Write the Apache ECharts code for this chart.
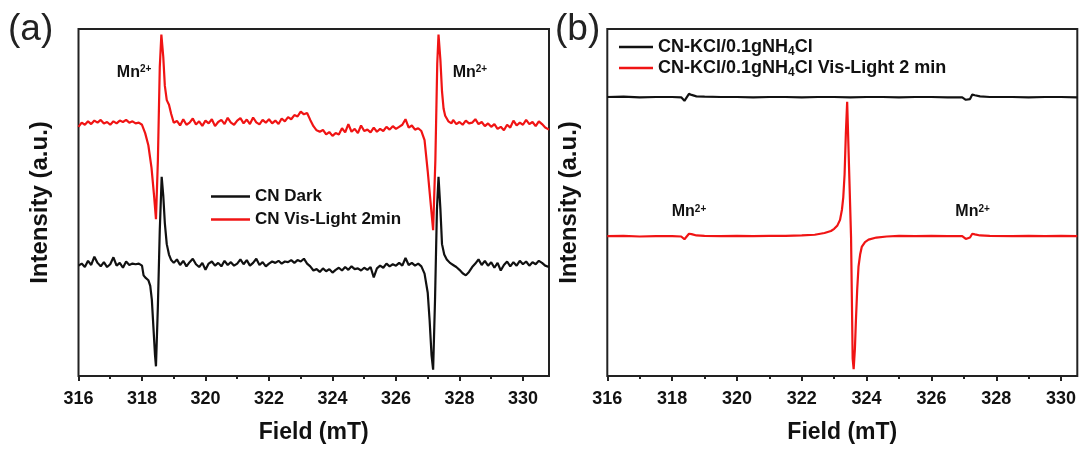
<!DOCTYPE html>
<html>
<head>
<meta charset="utf-8">
<title>EPR</title>
<script src="https://cdn.jsdelivr.net/npm/echarts@6/dist/echarts.min.js"></script>
<style>
    html, body { margin: 0; padding: 0; background: #fff; }
    #main { width: 1082px; height: 449px; }
</style>
</head>
<body>
<div id="main"></div>
<script>
// 刻度
var majorTicks = [316, 318, 320, 322, 324, 326, 328, 330];
var minorTicks = [317, 319, 321, 323, 325, 327, 329];

// (a) CN Dark  [field mT, intensity]
var aDark = [
    [316.0, 31.8], [316.1, 32.4], [316.2, 31.4], [316.3, 33.2], [316.4, 32.0], [316.5, 34.4], [316.6, 32.6], [316.7, 31.6], [316.8, 32.8], [316.9, 31.4],
    [317.0, 32.2], [317.1, 34.2], [317.2, 31.8], [317.3, 32.6], [317.4, 31.2], [317.5, 33.0], [317.6, 32.0], [317.7, 32.4], [317.8, 32.2], [317.9, 32.4],
    [318.0, 31.8], [318.05, 29.0], [318.1, 28.4], [318.15, 28.2], [318.2, 27.6], [318.26, 26.0], [318.31, 22.0], [318.36, 14.0], [318.41, 6.0], [318.44, 2.8],
    [318.5, 20.0], [318.56, 42.0], [318.62, 57.4], [318.67, 52.0], [318.72, 44.0], [318.78, 38.0], [318.85, 35.0], [318.92, 33.4],
    [319.0, 32.6], [319.1, 33.6], [319.2, 32.0], [319.3, 33.2], [319.4, 31.6], [319.5, 32.8], [319.6, 33.8], [319.7, 32.2], [319.8, 31.4], [319.9, 32.6],
    [320.0, 30.6], [320.1, 32.4], [320.2, 33.0], [320.3, 31.8], [320.4, 32.6], [320.5, 31.6], [320.6, 33.2], [320.7, 32.0], [320.8, 32.8], [320.9, 31.8],
    [321.0, 32.4], [321.1, 33.6], [321.2, 32.2], [321.3, 33.4], [321.4, 31.8], [321.5, 32.6], [321.6, 33.8], [321.7, 32.0], [321.8, 32.8], [321.9, 31.6],
    [322.0, 32.4], [322.1, 33.0], [322.2, 32.6], [322.3, 33.2], [322.4, 32.4], [322.5, 33.0], [322.6, 32.8], [322.7, 33.4], [322.8, 32.6], [322.9, 33.4],
    [323.0, 33.0], [323.1, 33.8], [323.2, 32.4], [323.3, 31.6], [323.4, 30.4], [323.5, 30.8], [323.6, 30.0], [323.7, 31.0], [323.8, 30.2], [323.9, 30.8],
    [324.0, 29.8], [324.1, 30.6], [324.2, 31.2], [324.3, 30.4], [324.4, 31.4], [324.5, 30.6], [324.6, 31.6], [324.7, 30.8], [324.8, 31.0], [324.9, 30.4],
    [325.0, 31.2], [325.1, 30.6], [325.2, 31.4], [325.3, 28.4], [325.4, 31.0], [325.5, 31.8], [325.6, 31.2], [325.7, 32.4], [325.8, 31.6], [325.9, 32.2],
    [326.0, 31.8], [326.1, 32.6], [326.2, 31.8], [326.3, 34.0], [326.4, 32.0], [326.5, 32.6], [326.6, 31.8], [326.7, 32.4], [326.8, 31.6], [326.9, 29.5],
    [327.0, 24.0], [327.06, 16.0], [327.12, 6.0], [327.17, 1.8], [327.23, 22.0], [327.29, 48.0], [327.34, 57.4], [327.4, 48.0], [327.45, 38.0], [327.52, 35.0],
    [327.6, 33.6], [327.7, 32.6], [327.8, 32.0], [327.9, 31.4], [328.0, 30.6], [328.1, 29.6], [328.2, 29.0], [328.3, 30.0], [328.4, 31.4], [328.5, 32.4],
    [328.6, 33.6], [328.7, 32.0], [328.8, 33.2], [328.9, 31.8], [329.0, 32.8], [329.1, 31.2], [329.2, 32.6], [329.3, 30.4], [329.4, 32.0], [329.5, 33.0],
    [329.6, 31.6], [329.7, 32.8], [329.8, 31.8], [329.9, 33.2], [330.0, 32.2], [330.1, 33.0], [330.2, 31.8], [330.3, 32.8], [330.4, 32.2], [330.5, 33.2],
    [330.6, 32.6], [330.7, 31.8], [330.82, 31.4]
];

// (a) CN Vis-Light 2min
var aLight = [
    [316.0, 71.8], [316.1, 73.0], [316.2, 72.4], [316.3, 73.4], [316.4, 72.6], [316.5, 73.6], [316.6, 73.0], [316.7, 73.8], [316.8, 72.8], [316.9, 73.2],
    [317.0, 72.4], [317.1, 73.4], [317.2, 72.8], [317.3, 73.6], [317.4, 73.2], [317.5, 73.8], [317.6, 73.0], [317.7, 73.4], [317.8, 72.8], [317.9, 73.0],
    [318.0, 72.4], [318.1, 70.0], [318.2, 66.5], [318.3, 60.0], [318.38, 52.0], [318.44, 45.2], [318.5, 62.0], [318.56, 89.0], [318.61, 98.4], [318.67, 92.0],
    [318.72, 83.6], [318.78, 79.5], [318.85, 78.2], [318.92, 75.5],
    [319.0, 73.0], [319.1, 73.5], [319.2, 72.2], [319.3, 74.0], [319.4, 72.4], [319.5, 73.0], [319.6, 74.2], [319.7, 72.5], [319.8, 73.4], [319.9, 72.1],
    [320.0, 73.6], [320.1, 72.8], [320.2, 74.0], [320.3, 72.0], [320.4, 73.2], [320.5, 73.8], [320.6, 72.6], [320.7, 74.4], [320.8, 73.0], [320.9, 72.4],
    [321.0, 73.6], [321.1, 74.3], [321.2, 72.8], [321.3, 73.9], [321.4, 72.6], [321.5, 74.5], [321.6, 73.1], [321.7, 72.5], [321.8, 73.8], [321.9, 73.0],
    [322.0, 74.0], [322.1, 72.8], [322.2, 73.6], [322.3, 72.6], [322.4, 74.2], [322.5, 73.4], [322.6, 74.6], [322.7, 74.0], [322.8, 75.2], [322.9, 74.8],
    [323.0, 76.2], [323.1, 75.4], [323.2, 75.8], [323.3, 73.8], [323.4, 72.0], [323.5, 70.8], [323.6, 70.4], [323.7, 70.9], [323.8, 69.6], [323.9, 70.3],
    [324.0, 69.2], [324.1, 70.0], [324.2, 69.6], [324.3, 71.4], [324.4, 70.2], [324.5, 72.6], [324.6, 70.4], [324.7, 71.2], [324.8, 70.0], [324.9, 72.2],
    [325.0, 70.6], [325.1, 71.0], [325.2, 70.2], [325.3, 71.6], [325.4, 70.4], [325.5, 71.2], [325.6, 70.6], [325.7, 71.8], [325.8, 71.0], [325.9, 72.0],
    [326.0, 71.2], [326.1, 71.8], [326.2, 72.4], [326.3, 74.0], [326.4, 71.6], [326.5, 72.2], [326.6, 71.0], [326.7, 71.4], [326.8, 70.6], [326.9, 68.0],
    [327.0, 59.0], [327.1, 49.0], [327.17, 42.0], [327.24, 62.0], [327.3, 90.0], [327.34, 98.4], [327.4, 91.0], [327.45, 82.0], [327.5, 77.0], [327.55, 75.0],
    [327.65, 73.4], [327.75, 72.8], [327.8, 73.8], [327.9, 72.6], [328.0, 73.2], [328.1, 72.4], [328.2, 73.6], [328.3, 72.8], [328.4, 73.0], [328.5, 74.0],
    [328.6, 72.6], [328.7, 73.2], [328.8, 72.0], [328.9, 72.8], [329.0, 71.8], [329.1, 72.6], [329.2, 71.2], [329.3, 71.8], [329.4, 70.8], [329.5, 72.4],
    [329.6, 71.6], [329.7, 73.6], [329.8, 72.2], [329.9, 73.0], [330.0, 72.4], [330.1, 73.8], [330.2, 72.6], [330.3, 73.2], [330.4, 72.0], [330.5, 73.4],
    [330.6, 72.6], [330.7, 71.6], [330.82, 71.0]
];

// (b) CN-KCl/0.1gNH4Cl
var bDark = [
    [316.0, 80.4], [316.5, 80.5], [317.0, 80.3], [317.5, 80.4], [318.0, 80.4], [318.28, 80.3], [318.38, 79.3], [318.44, 79.5], [318.52, 81.3], [318.6, 81.0],
    [318.75, 80.6], [319.0, 80.5], [319.5, 80.4], [320.0, 80.4], [320.5, 80.3], [321.0, 80.4], [321.5, 80.4], [322.0, 80.3], [322.5, 80.4], [323.0, 80.4],
    [323.5, 80.3], [324.0, 80.4], [324.5, 80.4], [325.0, 80.3], [325.5, 80.4], [326.0, 80.4], [326.5, 80.3], [326.95, 80.3], [327.06, 79.6], [327.12, 79.1],
    [327.19, 79.8], [327.26, 81.1], [327.34, 80.9], [327.5, 80.6], [327.8, 80.4], [328.5, 80.4], [329.0, 80.3], [329.5, 80.4], [330.0, 80.4], [330.5, 80.3]
];

// (b) CN-KCl/0.1gNH4Cl Vis-Light 2 min
var bLight = [
    [316.0, 40.3], [316.5, 40.4], [317.0, 40.2], [317.5, 40.3], [318.0, 40.3], [318.28, 40.2], [318.38, 39.4], [318.44, 39.2], [318.52, 41.0], [318.6, 40.9],
    [318.75, 40.5], [319.0, 40.4], [319.5, 40.3], [320.0, 40.4], [320.5, 40.3], [321.0, 40.4], [321.5, 40.4], [322.0, 40.5], [322.4, 40.7], [322.7, 41.2],
    [322.9, 41.8], [323.0, 42.4], [323.1, 43.4], [323.18, 45.0], [323.24, 48.0], [323.28, 51.5], [323.32, 58.0], [323.36, 70.0], [323.4, 79.0], [323.46, 79.0],
    [323.52, 40.0], [323.57, 5.0], [323.6, 2.0], [323.64, 8.0], [323.67, 16.0], [323.71, 25.0], [323.75, 31.5], [323.8, 35.0], [323.85, 37.2], [323.95, 38.6],
    [324.06, 39.3], [324.3, 39.9], [324.62, 40.2], [325.0, 40.4], [325.5, 40.3], [326.0, 40.4], [326.5, 40.3], [326.95, 40.3], [327.06, 39.5], [327.12, 39.1],
    [327.19, 39.9], [327.26, 41.0], [327.34, 40.8], [327.5, 40.5], [327.8, 40.4], [328.5, 40.3], [329.0, 40.4], [329.5, 40.3], [330.0, 40.4], [330.5, 40.3]
];

// Mn2+ 标注位置
var mnA = [[317.75, 87.4], [328.33, 87.4]];
var mnB = [[318.52, 47.3], [327.27, 47.3]];

var FONT = '"Liberation Sans", Arial, sans-serif';
var AXIS_COLOR = '#222';
var RED = '#f01414';
var BLACK = '#111';

var myChart = echarts.init(document.getElementById('main'));

function mainX(grid, max) {
    return {
        gridIndex: grid,
        type: 'value',
        min: 316,
        max: max,
        position: 'bottom',
        axisLine: { show: false },
        axisTick: { show: true, customValues: majorTicks, length: 5, lineStyle: { color: AXIS_COLOR, width: 2 } },
        axisLabel: {
            customValues: majorTicks, margin: 14,
            fontSize: 18, fontWeight: 'bold', color: BLACK, fontFamily: FONT
        },
        splitLine: { show: false },
        name: 'Field (mT)',
        nameLocation: 'middle',
        nameGap: 45,
        nameTextStyle: { fontSize: 23, fontWeight: 'bold', color: BLACK, fontFamily: FONT }
    };
}

function minorX(grid, max) {
    return {
        gridIndex: grid,
        type: 'value',
        min: 316,
        max: max,
        position: 'bottom',
        axisLine: { show: false },
        axisTick: { show: true, customValues: minorTicks, length: 3, lineStyle: { color: AXIS_COLOR, width: 2 } },
        axisLabel: { show: false },
        splitLine: { show: false }
    };
}

function yAx(grid) {
    return {
        gridIndex: grid,
        type: 'value',
        min: 0,
        max: 100,
        axisLine: { show: false },
        axisTick: { show: false },
        axisLabel: { show: false },
        splitLine: { show: false },
        name: 'Intensity (a.u.)',
        nameLocation: 'middle',
        nameRotate: 90,
        nameGap: 26,
        nameTextStyle: { fontSize: 24, fontWeight: 'bold', color: BLACK, fontFamily: FONT }
    };
}

function mnMark(list) {
    return {
        symbol: 'circle',
        symbolSize: 1,
        itemStyle: { color: 'transparent' },
        label: {
            show: true,
            position: 'inside',
            formatter: 'Mn{sup|2+}',
            fontSize: 16, lineHeight: 16, fontWeight: 'bold', color: BLACK, fontFamily: FONT,
            rich: {
                sup: { fontSize: 10, lineHeight: 1, verticalAlign: 'top', fontWeight: 'bold', color: BLACK, fontFamily: FONT }
            }
        },
        data: list.map(function (p) { return { coord: p }; })
    };
}

function line(name, data, color, xi, yi, mark) {
    var s = {
        name: name,
        type: 'line',
        xAxisIndex: xi,
        yAxisIndex: yi,
        showSymbol: false,
        symbol: 'none',
        lineStyle: { color: color, width: 2.2 },
        itemStyle: { color: color },
        data: data
    };
    if (mark) s.markPoint = mark;
    return s;
}

var option = {
    animation: false,
    backgroundColor: '#fff',
    title: [
        { text: '(a)', left: 3, top: 6, textStyle: { fontSize: 37, fontWeight: 'normal', color: AXIS_COLOR, fontFamily: FONT } },
        { text: '(b)', left: 550, top: 6, textStyle: { fontSize: 37, fontWeight: 'normal', color: AXIS_COLOR, fontFamily: FONT } }
    ],
    grid: [
        { left: 78.5, top: 29, width: 470.5, height: 352, show: true, borderColor: AXIS_COLOR, borderWidth: 2 },
        { left: 607.3, top: 29, width: 470, height: 352, show: true, borderColor: AXIS_COLOR, borderWidth: 2 }
    ],
    legend: [
        {
            data: ['CN Dark', 'CN Vis-Light 2min'],
            orient: 'vertical',
            left: 206,
            top: 183,
            icon: 'rect',
            itemWidth: 39,
            itemHeight: 2.5,
            itemGap: 6,
            textStyle: { fontSize: 17, fontWeight: 'bold', color: BLACK, fontFamily: FONT }
        },
        {
            data: ['CN-KCl/0.1gNH4Cl', 'CN-KCl/0.1gNH4Cl Vis-Light 2 min'],
            orient: 'vertical',
            left: 614,
            top: 31,
            icon: 'rect',
            itemWidth: 34,
            itemHeight: 2.5,
            itemGap: -1,
            formatter: function (name) {
                return name.replace('NH4Cl', 'NH{sub|4}Cl');
            },
            textStyle: {
                fontSize: 18, lineHeight: 22, fontWeight: 'bold', color: BLACK, fontFamily: FONT,
                rich: {
                    sub: { fontSize: 12, lineHeight: 2, verticalAlign: 'bottom', fontWeight: 'bold', color: BLACK, fontFamily: FONT }
                }
            }
        }
    ],
    xAxis: [mainX(0, 330.82), minorX(0, 330.82), mainX(1, 330.5), minorX(1, 330.5)],
    yAxis: [yAx(0), yAx(1)],
    series: [
        line('CN Dark', aDark, BLACK, 0, 0),
        line('CN Vis-Light 2min', aLight, RED, 0, 0, mnMark(mnA)),
        line('CN-KCl/0.1gNH4Cl', bDark, BLACK, 2, 1),
        line('CN-KCl/0.1gNH4Cl Vis-Light 2 min', bLight, RED, 2, 1, mnMark(mnB))
    ]
};

myChart.setOption(option);
</script>
</body>
</html>
